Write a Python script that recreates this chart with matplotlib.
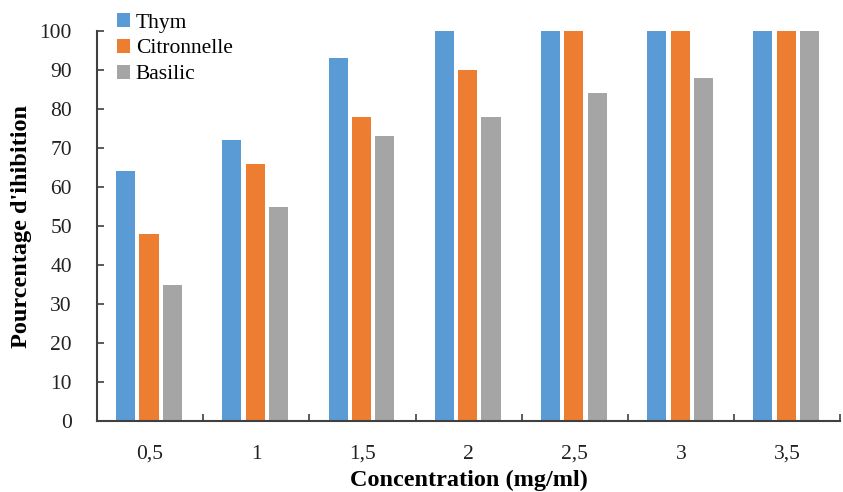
import matplotlib
matplotlib.use("Agg")
import matplotlib.pyplot as plt
import numpy as np

categories = ["0,5", "1", "1,5", "2", "2,5", "3", "3,5"]
thym = [64, 72, 93, 100, 100, 100, 100]
citronnelle = [48, 66, 78, 90, 100, 100, 100]
basilic = [35, 55, 73, 78, 84, 88, 100]
series_names = ["Thym", "Citronnelle", "Basilic"]
colors = ["#5B9BD5", "#ED7D31", "#A5A5A5"]

plt.rcParams['font.family'] = ['Liberation Serif', 'DejaVu Serif']

fig = plt.figure(figsize=(8.43, 4.92), dpi=100)
ax = fig.add_axes([0.115, 0.144, 0.882, 0.793])

x = np.arange(len(categories))
w = 0.18
step = 0.22
for i, (vals, name, c) in enumerate(zip([thym, citronnelle, basilic], series_names, colors)):
    ax.bar(x + (i - 1) * step - 0.01, vals, width=w, color=c, label=name, zorder=2)

ax.set_xlim(-0.5, len(categories) - 0.5)
ax.set_ylim(0, 100)
ax.set_yticks(np.arange(0, 101, 10))
ax.set_xticks(x)
ax.set_xticklabels(categories)
ax.set_xticks(np.arange(-0.5, len(categories), 1), minor=True)
ax.tick_params(axis='x', which='major', length=0, pad=17, labelsize=15.5, colors='#222222')
ax.tick_params(axis='x', which='minor', direction='in', length=5, width=1.2, color='#404040')
ax.tick_params(axis='y', direction='in', length=5, width=1.2, color='#404040', labelsize=15.5, labelcolor='#222222', pad=18)

for s in ['top', 'right']:
    ax.spines[s].set_visible(False)
for s in ['left', 'bottom']:
    ax.spines[s].set_color('#404040')
    ax.spines[s].set_linewidth(1.5)

ax.set_xlabel("Concentration (mg/ml)", fontsize=17.5, fontweight='bold')
ax.set_ylabel("Pourcentage d'ihibition", fontsize=17.5, fontweight='bold')
ax.xaxis.set_label_coords(0.5, -0.125)
ax.yaxis.set_label_coords(-0.087, 0.5)

leg = ax.legend(loc='upper left', bbox_to_anchor=(0.016, 1.068), frameon=False,
                fontsize=15.5, handlelength=0.6, handleheight=0.6, handletextpad=0.25,
                labelspacing=0.3, borderaxespad=0)

fig.savefig("out.png", dpi=100)
